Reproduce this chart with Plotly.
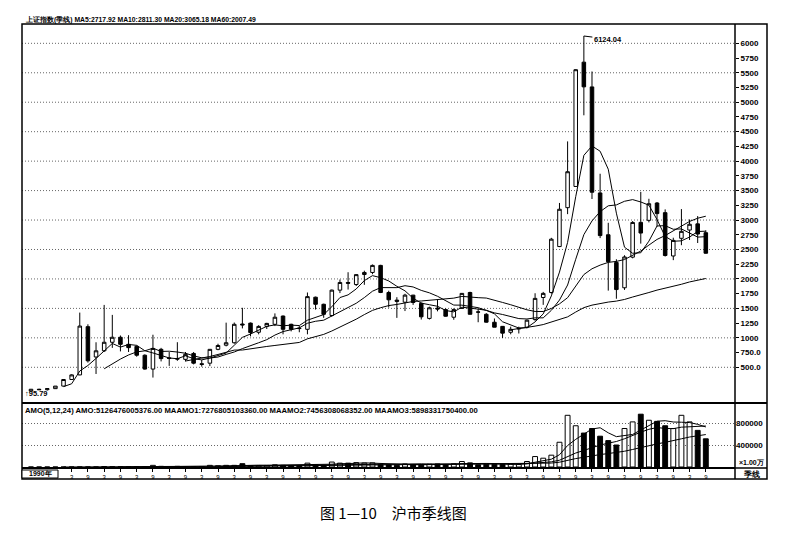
import plotly.graph_objects as go
import pandas as pd

W, H = 802, 548
OFF = 8  # the page body adds an 8px margin


def px(x):
    return (x - OFF) / W


def py(y):
    return 1 - (y - OFF) / H


# 上证指数 季线: 1990Q4 .. 2011Q3, one entry per quarter
quarter_idx = list(range(84))
open_ = [96.05, 127.61, 120.19, 137.56, 180.92, 292.75, 371.0, 1190.0, 675.0, 780.0,
         925.0, 1010.0, 890.0, 855.0, 705.0, 470.0, 805.0, 660.0, 650.0, 635.0,
         735.0, 560.0, 570.0, 805.0, 875.0, 917.0, 1235.0, 1250.0, 1095.0, 1195.0,
         1230.0, 1370.0, 1230.0, 1165.0, 1145.0, 1690.0, 1570.0, 1380.0, 1810.0, 1940.0,
         1905.0, 2075.0, 2110.0, 2230.0, 1770.0, 1640.0, 1605.0, 1725.0, 1585.0, 1330.0,
         1505.0, 1480.0, 1350.0, 1500.0, 1770.0, 1440.0, 1400.0, 1265.0, 1195.0, 1095.0,
         1150.0, 1180.0, 1310.0, 1685.0, 1770.0, 2550.0, 3210.0, 3570.0, 5680.0, 5260.0,
         3460.0, 2750.0, 2280.0, 1850.0, 2370.0, 2960.0, 2995.0, 3289.0, 3125.0, 2390.0,
         2690.0, 2830.0, 2935.0, 2785.0]
high_ = [127.61, 134.87, 137.56, 180.92, 292.75, 382.0, 1429.0, 1230.0, 925.0, 1558.95,
         1390.0, 1040.0, 1045.0, 870.0, 720.0, 1052.9, 830.0, 760.0, 926.0, 760.0,
         760.0, 625.0, 810.0, 900.0, 1258.0, 1260.0, 1510.0, 1260.0, 1215.0, 1255.0,
         1415.0, 1380.0, 1240.0, 1200.0, 1770.0, 1700.0, 1580.0, 1820.0, 1990.0, 2114.0,
         2080.0, 2140.0, 2245.0, 2240.0, 1800.0, 1690.0, 1748.0, 1730.0, 1600.0, 1530.0,
         1649.0, 1500.0, 1500.0, 1760.0, 1783.0, 1490.0, 1420.0, 1329.0, 1200.0, 1190.0,
         1190.0, 1310.0, 1757.0, 1780.0, 2698.0, 3290.0, 4335.0, 5560.0, 6124.04, 5522.0,
         3786.0, 2953.0, 2334.0, 2402.0, 2982.0, 3478.0, 3361.0, 3306.0, 3181.0, 2700.0,
         3186.0, 3010.0, 3067.0, 2826.0]
low_ = [95.79, 116.0, 104.96, 134.0, 178.0, 288.0, 365.0, 580.0, 386.85, 760.0,
        830.0, 770.0, 760.0, 680.0, 460.0, 325.89, 600.0, 524.0, 610.0, 600.0,
        550.0, 512.0, 520.0, 790.0, 855.0, 900.0, 1160.0, 1025.0, 1060.0, 1150.0,
        1200.0, 1060.0, 1110.0, 1095.0, 1060.0, 1480.0, 1340.0, 1360.0, 1760.0, 1820.0,
        1880.0, 1900.0, 2080.0, 1760.0, 1514.0, 1339.0, 1455.0, 1560.0, 1311.0, 1311.0,
        1450.0, 1360.0, 1307.0, 1490.0, 1399.0, 1265.0, 1259.0, 1180.0, 998.0, 1060.0,
        1074.0, 1160.0, 1290.0, 1560.0, 1750.0, 2541.0, 3100.0, 3563.0, 4778.0, 3357.0,
        2693.0, 1802.0, 1664.0, 1814.0, 2350.0, 2600.0, 2960.0, 2890.0, 2380.0, 2319.0,
        2573.0, 2661.0, 2610.0, 2430.0]
close_ = [127.61, 120.19, 137.56, 180.92, 292.75, 371.0, 1200.0, 610.0, 780.0, 925.0,
          1010.0, 890.0, 833.8, 705.0, 470.0, 820.0, 647.87, 650.0, 640.0, 720.0,
          570.0, 550.0, 805.0, 870.0, 917.0, 1230.0, 1220.0, 1090.0, 1194.0, 1245.0,
          1350.0, 1145.0, 1146.0, 1158.0, 1700.0, 1570.0, 1400.0, 1810.0, 1940.0, 1927.0,
          2073.0, 2110.0, 2230.0, 1770.0, 1646.0, 1620.0, 1725.0, 1600.0, 1357.0, 1510.0,
          1490.0, 1367.0, 1480.0, 1755.0, 1400.0, 1437.0, 1266.0, 1181.0, 1080.0, 1145.0,
          1161.0, 1300.0, 1670.0, 1755.0, 2675.0, 3183.0, 3820.0, 5552.0, 5261.0, 3472.0,
          2736.0, 2293.0, 1820.0, 2373.0, 2959.0, 2779.0, 3277.0, 3109.0, 2398.0, 2655.0,
          2808.0, 2928.0, 2762.0, 2436.6]
# 成交金额, 单位: 千万元
amount = [1, 15, 20, 40, 150, 300, 900, 700, 560, 9000,
          6000, 4000, 3760, 5000, 4000, 30000, 12000, 6000, 12000, 7000,
          5000, 8000, 30000, 23000, 30000, 30000, 60000, 25000, 22000, 28000,
          40000, 30000, 25000, 25000, 70000, 45000, 24000, 90000, 70000, 70000,
          80000, 70000, 75000, 40000, 38000, 30000, 55000, 40000, 35000, 50000,
          55000, 45000, 58000, 100000, 75000, 40000, 50000, 50000, 45000, 55000,
          45000, 100000, 190000, 160000, 215000, 450000, 940000, 750000, 617000, 700000,
          560000, 480000, 400000, 700000, 820000, 960000, 850000, 830000, 750000, 700000,
          940000, 820000, 666000, 512647.6]

price_ticks = list(range(500, 6001, 250))
price_grid = list(range(500, 6001, 500))
ma_periods = [5, 10, 20, 60]
amo_periods = [5, 12, 24]
x_ticks = list(range(5, 84, 2))
x_ticktext = ["3" if (i - 1) % 4 == 0 else "9" for i in x_ticks]

closes = pd.Series(close_)
amounts = pd.Series(amount)

fig = go.Figure()

fig.add_trace(go.Candlestick(
    x=quarter_idx, open=open_, high=high_, low=low_, close=close_,
    increasing=dict(line=dict(color="black", width=1), fillcolor="white"),
    decreasing=dict(line=dict(color="black", width=1), fillcolor="black"),
    whiskerwidth=0, showlegend=False, yaxis="y"))

for n in ma_periods:
    fig.add_trace(go.Scatter(x=quarter_idx, y=closes.rolling(n).mean(), mode="lines",
                             line=dict(color="black", width=1), showlegend=False, yaxis="y"))

bar_colors = ["white" if c >= o else "black" for o, c in zip(open_, close_)]
fig.add_trace(go.Bar(x=quarter_idx, y=amount, width=0.6, yaxis="y2",
                     marker=dict(color=bar_colors, line=dict(color="black", width=1)),
                     showlegend=False))
for n in amo_periods:
    fig.add_trace(go.Scatter(x=quarter_idx, y=amounts.rolling(n).mean(), mode="lines",
                             line=dict(color="black", width=1), showlegend=False, yaxis="y2"))

tiny = dict(family="Liberation Sans", size=8, color="black", weight="bold")
grid_color = "#666666"

fig.update_layout(
    width=W, height=H, margin=dict(l=0, r=0, t=0, b=0),
    paper_bgcolor="white", plot_bgcolor="white", showlegend=False,
    boxgap=0.38,
    xaxis=dict(domain=[px(22), px(735)], range=[-1.107, 86.59], anchor="y2",
               tickvals=x_ticks, ticktext=x_ticktext, ticks="outside", ticklen=3,
               tickcolor="black", tickfont=dict(family="Liberation Sans", size=6, color="black"),
               showline=True, linecolor="black", linewidth=2, showgrid=False, zeroline=False,
               rangeslider=dict(visible=False)),
    yaxis=dict(domain=[py(403), py(25)], range=[-106, 6311], side="right", anchor="x",
               tickvals=price_ticks,
               ticktext=[f"{v:.1f}" if v < 1000 else str(v) for v in price_ticks],
               ticks="outside", ticklen=3, tickcolor="black", tickfont=tiny,
               showgrid=False, zeroline=False, showline=False),
    yaxis2=dict(domain=[py(467), py(405)], range=[0, 62 / 22 * 400000], side="right",
                anchor="x", tickvals=[400000, 800000], ticktext=["400000", "800000"],
                ticks="", tickfont=tiny, showgrid=True, gridcolor=grid_color,
                griddash="1px,2px", gridwidth=1, zeroline=False, showline=False),
)

for v in price_grid:
    fig.add_shape(type="line", xref="x domain", yref="y", x0=0, x1=1, y0=v, y1=v,
                  line=dict(color=grid_color, width=1, dash="1px,2px"), layer="below")

frame = dict(color="black", width=1.5)
fig.add_shape(type="rect", xref="paper", yref="paper", x0=px(22), x1=px(767),
              y0=py(479), y1=py(24), line=frame)
fig.add_shape(type="line", xref="paper", yref="paper", x0=px(735), x1=px(735),
              y0=py(479), y1=py(24), line=frame)
fig.add_shape(type="line", xref="paper", yref="paper", x0=px(22), x1=px(767),
              y0=py(403), y1=py(403), line=dict(color="black", width=2))
fig.add_shape(type="line", xref="paper", yref="paper", x0=px(735), x1=px(767),
              y0=py(468), y1=py(468), line=frame)
fig.add_shape(type="rect", xref="paper", yref="paper", x0=px(22), x1=px(58),
              y0=py(478), y1=py(470), line=dict(color="black", width=1), fillcolor="white")

notes = [
    (23, 19, "left", "<b>上证指数(季线) MA5:2717.92 MA10:2811.30 MA20:3065.18 MA60:2007.49</b>", 6.8),
    (23, 410, "left", "<b>AMO(5,12,24) AMO:5126476005376.00 MAAMO1:7276805103360.00 "
                      "MAAMO2:7456308068352.00 MAAMO3:5898331750400.00</b>", 7.7),
    (23, 393, "left", "<b>↑95.79</b>", 7.5),
    (40, 474, "center", "<b>1990年</b>", 7),
    (751, 474, "center", "<b>季线</b>", 7.5),
    (751, 463, "center", "<b>×1.00万</b>", 7),
]
for x, y, anchor, text, size in notes:
    fig.add_annotation(xref="paper", yref="paper", x=px(x), y=py(y), xanchor=anchor,
                       yanchor="middle", text=text, showarrow=False,
                       font=dict(family="Liberation Sans", size=size, color="black"))

fig.add_annotation(x=68, y=6124.04, xref="x", yref="y", text="<b>6124.04</b>",
                   showarrow=True, arrowhead=0, arrowwidth=1, arrowcolor="black",
                   ax=24, ay=3, standoff=0,
                   font=dict(family="Liberation Sans", size=7.5, color="black"))

fig.add_annotation(xref="paper", yref="paper", x=px(393), y=py(512), xanchor="center",
                   yanchor="middle", text="图 1—10　沪市季线图", showarrow=False,
                   font=dict(family="Noto Sans CJK SC", size=15, color="black"))

fig.write_html("out.html")
